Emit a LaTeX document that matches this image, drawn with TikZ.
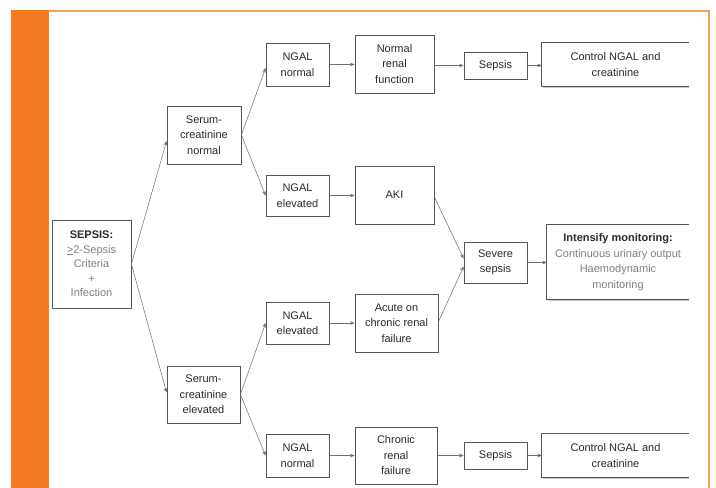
\documentclass[tikz,border=0pt]{standalone}
\usepackage{fontspec}
\setmainfont{Liberation Sans}
\usetikzlibrary{arrows.meta,shadows,calc}
\definecolor{orng}{HTML}{F47B20}
\definecolor{lorng}{HTML}{F9A055}
\definecolor{boxline}{HTML}{555555}
\definecolor{txt}{HTML}{2A2A2A}
\definecolor{gtxt}{HTML}{808080}
\tikzset{
  bx/.style={draw=boxline, line width=0.8pt, fill=white, inner sep=0pt, align=center,
    text=txt, font=\fontsize{11}{15.5}\selectfont,
    drop shadow={shadow xshift=1.2pt, shadow yshift=-1.2pt, fill=gray!45, opacity=1}},
  obx/.style={inner sep=0pt, align=center, text=txt, font=\fontsize{11}{15.5}\selectfont},
  obline/.style={draw=boxline, line width=0.8pt},
  obshadow/.style={draw=gray!45, line width=1pt},
  arr/.style={draw=boxline!85, line width=0.5pt, -{Stealth[length=4.5pt,width=3.6pt]}},
  sz/.style 2 args={minimum width=#1pt, minimum height=#2pt},
}
\begin{document}
\begin{tikzpicture}[x=1pt,y=-1pt]
\useasboundingbox (0,0) rectangle (716,488);
\fill[white] (0,0) rectangle (716,488);
% frame
\fill[orng] (11,10) rectangle (49,488);
\draw[lorng, line width=1.6pt] (49,10.8) -- (709.2,10.8) -- (709.2,488);

% closed boxes
\node[bx, sz={79}{88}, font=\fontsize{11}{14.5}\selectfont] (sep) at (91.5,264) {\textbf{SEPSIS:}\\\color{gtxt}\underline{>}2-Sepsis\\\color{gtxt}Criteria\\\color{gtxt}+\\\color{gtxt}Infection};
\node[bx, sz={74}{58}] (sn) at (204,135) {Serum-\\creatinine\\normal};
\node[bx, sz={73}{57}] (se) at (203.5,394.5) {Serum-\\creatinine\\elevated};
\node[bx, sz={63}{43}] (n1) at (297.5,64.5) {NGAL\\normal};
\node[bx, sz={63}{41}] (n2) at (297.5,195.5) {NGAL\\elevated};
\node[bx, sz={63}{42}] (n3) at (297.5,323) {NGAL\\elevated};
\node[bx, sz={63}{43}] (n4) at (297.5,455.5) {NGAL\\normal};
\node[bx, sz={79}{58}] (nrf) at (394.5,64) {Normal\\renal\\function};
\node[bx, sz={79}{58}] (aki) at (394.5,195) {AKI};
\node[bx, sz={83}{58}] (acr) at (396.5,323) {Acute on\\chronic renal\\failure};
\node[bx, sz={82}{57}] (crf) at (396,455.5) {Chronic\\renal\\failure};
\node[bx, sz={63}{27}] (s1) at (495.5,65.5) {Sepsis};
\node[bx, sz={63}{41}] (ss) at (495.5,262.5) {Severe\\sepsis};
\node[bx, sz={63}{27}] (s2) at (495.5,455.5) {Sepsis};

% open boxes (right side cut)
\node[obx, sz={147}{43}] (c1) at (615.5,64.5) {Control NGAL and\\creatinine};
\node[obx, sz={142}{74}] (im) at (618,262) {\textbf{Intensify monitoring:}\\\color{gtxt}Continuous urinary output\\\color{gtxt}Haemodynamic\\\color{gtxt}monitoring};
\node[obx, sz={147}{43}] (c2) at (615.5,455.5) {Control NGAL and\\creatinine};
\foreach \b in {c1,im,c2}{
  \draw[obshadow] ($(\b.south west)+(1.2,1.2)$) -- ($(\b.south east)+(0,1.2)$);
  \draw[obline] (\b.north east) -| (\b.south west) -- (\b.south east);
}

% connectors
\draw[arr] (sep.east) -- ($(sn.west)+(0,6)$);
\draw[arr] (sep.east) -- ($(se.west)+(0,-2)$);
\draw[arr] (sn.east) -- ($(n1.west)+(0,3.5)$);
\draw[arr] (sn.east) -- (n2.west);
\draw[arr] (se.east) -- (n3.west);
\draw[arr] (se.east) -- (n4.west);
\draw[arr] (n1.east) -- (n1.east -| nrf.west);
\draw[arr] (nrf.east |- s1.west) -- (s1.west);
\draw[arr] (s1.east) -- (s1.east -| c1.west);
\draw[arr] (n2.east) -- (n2.east -| aki.west);
\draw[arr] (n3.east) -- (n3.east -| acr.west);
\draw[arr] (n4.east) -- (n4.east -| crf.west);
\draw[arr] (crf.east |- s2.west) -- (s2.west);
\draw[arr] (s2.east) -- (s2.east -| c2.west);
\draw[arr] ($(aki.east)+(0,2)$) -- ($(ss.west)+(0,-4)$);
\draw[arr] ($(acr.east)+(0,-1)$) -- ($(ss.west)+(0,4)$);
\draw[arr] (ss.east) -- (ss.east -| im.west);
\end{tikzpicture}
\end{document}
